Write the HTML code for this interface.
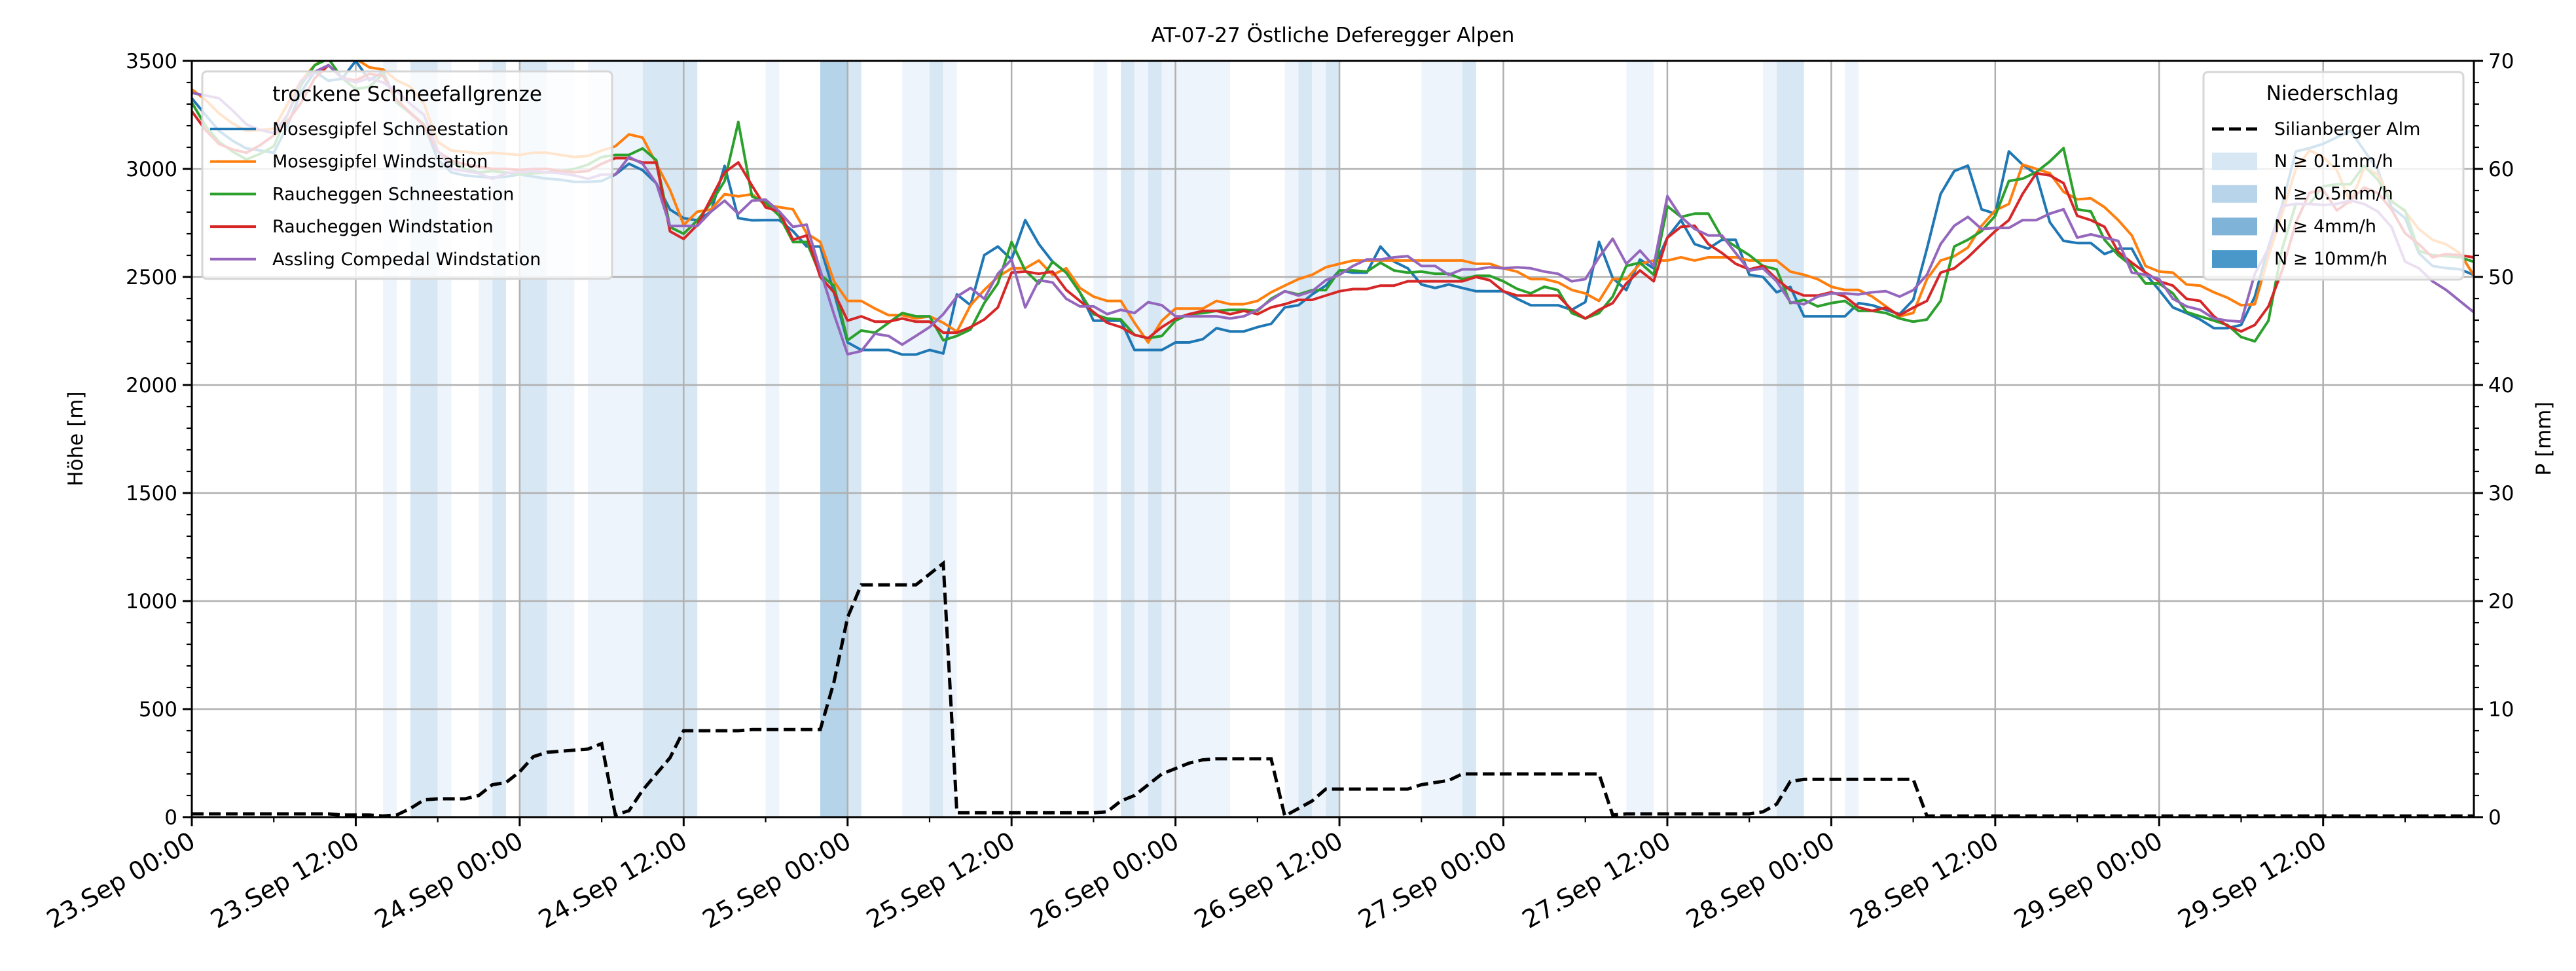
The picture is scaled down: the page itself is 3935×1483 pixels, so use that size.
<!DOCTYPE html>
<html><head><meta charset="utf-8">
<style>
html,body{margin:0;padding:0;background:#fff;}
svg{display:block;font-family:"DejaVu Sans","Liberation Sans",sans-serif;}
</style></head>
<body>
<svg id="chart" width="3935" height="1483" viewBox="0 0 3935 1483" xmlns="http://www.w3.org/2000/svg">
<defs><clipPath id="plotclip"><rect x="293" y="93" width="3486" height="1155"/></clipPath></defs>
<rect x="0" y="0" width="3935" height="1483" fill="#fff"/>
<g id="bands"></g>
<g id="grid"></g>
<g id="series" clip-path="url(#plotclip)"></g>
<g id="axes"></g>
<text x="2036" y="64" font-size="31" text-anchor="middle">AT-07-27 Östliche Deferegger Alpen</text>
<text transform="translate(126,670) rotate(-90)" font-size="31" text-anchor="middle">Höhe [m]</text>
<text transform="translate(3896,670) rotate(-90)" font-size="31" text-anchor="middle">P [mm]</text>
<g id="legend1"></g>
<g id="legend2"></g>
</svg>
<script>
const hours = 168;
const blue = [3327,3250,3176,3130,3095,3085,3075,3200,3357,3450,
3408,3418,3500,3410,3450,3307,3257,3206,3044,2984,
2970,2964,2960,2964,2975,2964,2955,2950,2940,2940,
2944,2974,3024,2994,2933,2812,2772,2762,2802,3014,
2772,2762,2763,2763,2712,2641,2641,2429,2197,2162,
2162,2162,2141,2141,2162,2146,2419,2369,2601,2641,
2581,2763,2652,2571,2520,2429,2298,2298,2298,2162,
2162,2162,2197,2197,2212,2263,2248,2248,2268,2283,
2359,2369,2419,2460,2530,2520,2520,2641,2571,2540,
2465,2449,2465,2449,2434,2434,2434,2399,2369,2369,
2369,2348,2384,2662,2495,2439,2581,2540,2682,2763,
2652,2631,2672,2672,2510,2500,2429,2454,2318,2318,
2318,2318,2379,2369,2348,2328,2394,2631,2884,2990,
3015,2813,2793,3081,3020,2975,2753,2667,2657,2657,
2606,2631,2631,2515,2439,2359,2333,2303,2263,2263,
2278,2409,2640,2834,3081,3096,3116,3146,3176,3086,
2995,2823,2773,2611,2551,2541,2536,2510];
const orange = [3368,3320,3257,3210,3176,3180,3186,3300,3408,3480,
3520,3520,3510,3470,3460,3410,3380,3300,3125,3085,
3080,3070,3075,3070,3065,3075,3075,3065,3055,3060,
3085,3105,3160,3145,3024,2903,2741,2802,2812,2883,
2873,2883,2833,2823,2813,2702,2662,2480,2389,2389,
2354,2323,2323,2308,2318,2288,2247,2369,2440,2500,
2540,2540,2576,2510,2540,2449,2409,2389,2389,2288,
2197,2298,2354,2354,2354,2389,2374,2374,2389,2429,
2460,2490,2510,2545,2561,2576,2576,2576,2576,2576,
2576,2576,2576,2576,2561,2561,2540,2525,2490,2490,
2475,2440,2424,2389,2490,2490,2561,2576,2576,2591,
2576,2591,2591,2591,2576,2576,2576,2525,2510,2490,
2455,2440,2440,2409,2364,2318,2333,2490,2576,2596,
2636,2737,2808,2838,3020,3000,2980,2894,2859,2864,
2823,2763,2692,2551,2525,2520,2465,2460,2429,2404,
2369,2374,2596,2793,3000,3086,3055,2995,2843,3005,
2975,2854,2803,2722,2672,2651,2611,2510];
const green = [3307,3200,3125,3080,3044,3070,3105,3250,3388,3480,
3510,3420,3370,3380,3440,3307,3260,3206,3080,3030,
3000,2984,2990,2984,2975,2980,2984,2990,3000,3020,
3055,3065,3065,3095,3040,2731,2700,2762,2843,2944,
3217,2873,2843,2783,2662,2662,2510,2460,2207,2252,
2242,2288,2333,2318,2318,2207,2227,2257,2379,2470,
2662,2530,2470,2571,2520,2429,2328,2308,2303,2232,
2217,2227,2298,2328,2333,2343,2348,2348,2343,2399,
2434,2419,2439,2439,2530,2530,2525,2566,2530,2520,
2525,2515,2515,2490,2505,2505,2480,2445,2424,2455,
2439,2333,2308,2333,2409,2551,2566,2510,2828,2778,
2793,2793,2682,2641,2601,2551,2535,2379,2394,2364,
2379,2389,2343,2343,2333,2308,2293,2303,2389,2641,
2672,2712,2783,2944,2955,2985,3035,3096,2813,2803,
2672,2601,2551,2470,2470,2424,2338,2318,2298,2278,
2222,2202,2298,2631,2838,2838,2919,2929,2929,3015,
2950,2849,2808,2621,2601,2596,2591,2571];
const red = [3267,3180,3115,3090,3075,3110,3155,3220,3307,3420,
3480,3420,3410,3440,3430,3320,3260,3200,3080,3040,
3020,3010,3000,3000,2995,3000,3000,2990,2985,2990,
3024,3050,3050,3029,3029,2711,2676,2741,2863,2984,
3030,2923,2822,2803,2672,2692,2500,2429,2298,2318,
2293,2293,2308,2293,2293,2242,2242,2268,2303,2359,
2520,2525,2515,2525,2440,2389,2338,2288,2268,2232,
2217,2268,2308,2328,2343,2343,2328,2343,2328,2359,
2374,2394,2394,2414,2434,2444,2444,2460,2460,2480,
2480,2480,2480,2480,2500,2485,2434,2414,2414,2414,
2414,2348,2308,2348,2379,2470,2530,2480,2682,2732,
2737,2652,2611,2561,2535,2551,2490,2439,2414,2414,
2429,2409,2359,2343,2358,2323,2358,2389,2520,2540,
2591,2652,2712,2763,2884,2980,2970,2934,2783,2763,
2732,2616,2566,2520,2480,2460,2399,2389,2318,2273,
2248,2278,2364,2530,2750,2889,2904,2808,2854,2914,
2889,2813,2702,2652,2591,2606,2601,2591];
const purple = [3352,3340,3327,3270,3206,3180,3166,3250,3408,3450,
3480,3420,3400,3420,3400,3360,3300,3250,3085,3000,
2990,2980,2954,2980,2985,2990,2984,2980,2970,2954,
2974,2974,3055,3024,2933,2736,2736,2736,2802,2853,
2792,2853,2858,2803,2732,2742,2530,2328,2142,2157,
2237,2227,2187,2227,2268,2328,2409,2449,2399,2515,
2581,2359,2485,2475,2399,2364,2364,2328,2348,2333,
2383,2369,2318,2318,2318,2318,2308,2318,2348,2394,
2434,2414,2434,2485,2510,2551,2581,2581,2591,2596,
2551,2551,2510,2535,2535,2545,2540,2545,2540,2525,
2515,2480,2490,2591,2677,2561,2622,2551,2874,2778,
2722,2692,2692,2611,2530,2540,2480,2384,2374,2409,
2424,2424,2419,2429,2434,2409,2439,2510,2652,2737,
2778,2722,2727,2727,2763,2763,2793,2813,2682,2697,
2682,2667,2520,2510,2490,2399,2364,2348,2308,2298,
2293,2515,2632,2828,2838,2838,2833,2838,2854,2838,
2803,2732,2571,2541,2480,2440,2389,2338];
const precip = [0.3,0.3,0.3,0.3,0.3,0.3,0.3,0.3,0.3,0.3,
0.3,0.2,0.2,0.2,0.1,0.2,0.8,1.6,1.7,1.7,
1.7,2.0,3.0,3.2,4.2,5.6,6.0,6.1,6.2,6.3,
6.8,0.2,0.6,2.5,4.0,5.5,8.0,8.0,8.0,8.0,
8.0,8.1,8.1,8.1,8.1,8.1,8.1,12.5,18.5,21.5,
21.5,21.5,21.5,21.5,22.5,23.5,0.4,0.4,0.4,0.4,
0.4,0.4,0.4,0.4,0.4,0.4,0.4,0.5,1.5,2.0,
3.0,4.0,4.5,5.0,5.3,5.4,5.4,5.4,5.4,5.4,
0.1,0.8,1.5,2.6,2.6,2.6,2.6,2.6,2.6,2.6,
3.0,3.2,3.4,4.0,4.0,4.0,4.0,4.0,4.0,4.0,
4.0,4.0,4.0,4.0,0.2,0.3,0.3,0.3,0.3,0.3,
0.3,0.3,0.3,0.3,0.3,0.5,1.2,3.3,3.5,3.5,
3.5,3.5,3.5,3.5,3.5,3.5,3.5,0.1,0.1,0.1,
0.1,0.1,0.1,0.1,0.1,0.1,0.1,0.1,0.1,0.1,
0.1,0.1,0.1,0.1,0.1,0.1,0.1,0.1,0.1,0.1,
0.1,0.1,0.1,0.1,0.1,0.1,0.1,0.1,0.1,0.1,
0.1,0.1,0.1,0.1,0.1,0.1,0.1,0.1];
const bandStart = [14,16,18,21,22,24,26,29,33,42,46,48,52,54,55,66,68,69,70,71,80,81,82,83,90,93,105,115,116,121];
const bandEnd   = [15,18,19,22,23,26,28,33,37,43,48,49,54,55,56,67,69,70,71,76,81,82,83,84,93,94,107,116,118,122];
const bandLevel = [1,2,1,1,2,2,1,1,2,1,3,2,1,2,1,1,2,1,2,1,1,2,1,2,1,2,1,1,2,1];
const xTickLabels = ["23.Sep 00:00","23.Sep 12:00","24.Sep 00:00","24.Sep 12:00","25.Sep 00:00","25.Sep 12:00","26.Sep 00:00","26.Sep 12:00","27.Sep 00:00","27.Sep 12:00","28.Sep 00:00","28.Sep 12:00","29.Sep 00:00","29.Sep 12:00"];
const yTicks = [0,500,1000,1500,2000,2500,3000,3500];
const y2Ticks = [0,10,20,30,40,50,60,70];
const seriesNames = ["Mosesgipfel Schneestation","Mosesgipfel Windstation","Raucheggen Schneestation","Raucheggen Windstation","Assling Compedal Windstation"];

const NS = "http://www.w3.org/2000/svg";
const L = 293, R = 3779, T = 93, B = 1248;
const xHourPx = 20.87;
function xs(h){ return L + h * xHourPx; }
function ys(v){ return B - (v / 3500) * (B - T); }
function ys2(p){ return B - (p / 70) * (B - T); }
function mk(tag, attrs, parent){ const e = document.createElementNS(NS, tag); for (const k in attrs) e.setAttribute(k, attrs[k]); parent.appendChild(e); return e; }

const bandColors = ["", "#eef4fb", "#d8e7f4", "#b5d3e9", "#4a98c9"];
const gB = document.getElementById('bands');
for (let i = 0; i < bandStart.length; i++) {
  const r = mk('rect', {x: xs(bandStart[i]), y: T, width: xs(bandEnd[i]) - xs(bandStart[i]), height: B - T, fill: bandColors[bandLevel[i]]}, gB);
  
  
}

const gG = document.getElementById('grid');
for (let i = 0; i < xTickLabels.length; i++) {
  const x = xs(i * 12);
  const l = mk('line', {x1: x, x2: x, y1: T, y2: B, stroke: '#b0b0b0', 'stroke-width': 2.5}, gG);
  
  
}
yTicks.forEach(v => {
  const l = mk('line', {x1: L, x2: R, y1: ys(v), y2: ys(v), stroke: '#b0b0b0', 'stroke-width': 2.5}, gG);
  
  
});

const gS = document.getElementById('series');
const colors = ['#1f77b4', '#ff7f0e', '#2ca02c', '#d62728', '#9467bd'];
const allSeries = [blue, orange, green, red, purple];
const sKeys = ['mosesgipfel-schneestation-line','mosesgipfel-windstation-line','raucheggen-schneestation-line','raucheggen-windstation-line','assling-compedal-windstation-line'];
allSeries.forEach((arr, si) => {
  const d = arr.map((v, i) => (i ? 'L' : 'M') + xs(i).toFixed(1) + ',' + ys(v).toFixed(1)).join(' ');
  const p = mk('path', {d: d, fill: 'none', stroke: colors[si], 'stroke-width': 4, 'stroke-linejoin': 'round'}, gS);
  
  
});
const pd = precip.map((v, i) => (i ? 'L' : 'M') + xs(i).toFixed(1) + ',' + ys2(v).toFixed(1)).join(' ');
const pl = mk('path', {d: pd, fill: 'none', stroke: '#000', 'stroke-width': 5, 'stroke-dasharray': '18,8'}, gS);



const gA = document.getElementById('axes');
const frame = mk('rect', {x: L, y: T, width: R - L, height: B - T, fill: 'none', stroke: '#000', 'stroke-width': 3}, gA);


for (let h = 0; h <= 167; h += 6) {
  const major = h % 12 === 0;
  const t = mk('line', {x1: xs(h), x2: xs(h), y1: B, y2: B + (major ? 14 : 8), stroke: '#000', 'stroke-width': major ? 3 : 2.2}, gA);
  
  
}
xTickLabels.forEach((lab, i) => {
  const x = xs(i * 12);
  const t = mk('text', {transform: 'translate(' + (x + 8) + ',' + (B + 44) + ') rotate(-30)', 'text-anchor': 'end', 'font-size': 38}, gA);
  t.textContent = lab;
  
  
});
for (let v = 0; v <= 3500; v += 100) {
  const major = v % 500 === 0;
  const t = mk('line', {x1: L - (major ? 14 : 8), x2: L, y1: ys(v), y2: ys(v), stroke: '#000', 'stroke-width': major ? 3 : 2.2}, gA);
  
  
}
yTicks.forEach(v => {
  const t = mk('text', {x: L - 22, y: ys(v) + 11, 'text-anchor': 'end', 'font-size': 31}, gA);
  t.textContent = String(v);
  
  
});
for (let p = 0; p <= 70; p += 2) {
  const major = p % 10 === 0;
  const t = mk('line', {x1: R, x2: R + (major ? 14 : 8), y1: ys2(p), y2: ys2(p), stroke: '#000', 'stroke-width': major ? 3 : 2.2}, gA);
  
  
}
y2Ticks.forEach(p => {
  const t = mk('text', {x: R + 22, y: ys2(p) + 11, 'text-anchor': 'start', 'font-size': 31}, gA);
  t.textContent = String(p);
  
  
});

// Legend 1
const g1 = document.getElementById('legend1');
const b1 = mk('rect', {x: 309, y: 109, width: 626, height: 317, rx: 7, fill: 'rgba(255,255,255,0.8)', stroke: '#d6d6d6', 'stroke-width': 3}, g1);


const t1 = mk('text', {x: 622, y: 154, 'text-anchor': 'middle', 'font-size': 31}, g1);
t1.textContent = 'trockene Schneefallgrenze';


seriesNames.forEach((n, i) => {
  const y = 197 + i * 49.7;
  const ln = mk('line', {x1: 321, x2: 391, y1: y, y2: y, stroke: colors[i], 'stroke-width': 4}, g1);
  
  
  const tx = mk('text', {x: 416, y: y + 9, 'font-size': 27}, g1);
  tx.textContent = n;
  
  
});

// Legend 2
const g2 = document.getElementById('legend2');
const b2 = mk('rect', {x: 3366, y: 110, width: 397, height: 317, rx: 7, fill: 'rgba(255,255,255,0.8)', stroke: '#d6d6d6', 'stroke-width': 3}, g2);


const t2 = mk('text', {x: 3563, y: 153, 'text-anchor': 'middle', 'font-size': 31}, g2);
t2.textContent = 'Niederschlag';


const dl = mk('line', {x1: 3379, x2: 3448, y1: 197, y2: 197, stroke: '#000', 'stroke-width': 5, 'stroke-dasharray': '18,8'}, g2);


const dt = mk('text', {x: 3474, y: 206, 'font-size': 27}, g2);
dt.textContent = 'Silianberger Alm';


const pLabels = ['N ≥ 0.1mm/h', 'N ≥ 0.5mm/h', 'N ≥ 4mm/h', 'N ≥ 10mm/h'];
const pCols = ['#d8e7f4', '#b7d4ea', '#7fb4d8', '#4a98c9'];
pLabels.forEach((lab, i) => {
  const y = 246 + i * 49.7;
  const r = mk('rect', {x: 3379, y: y - 13, width: 69, height: 27, fill: pCols[i]}, g2);
  
  
  const tx = mk('text', {x: 3474, y: y + 9, 'font-size': 27}, g2);
  tx.textContent = lab;
  
  
});
</script>
</body></html>
